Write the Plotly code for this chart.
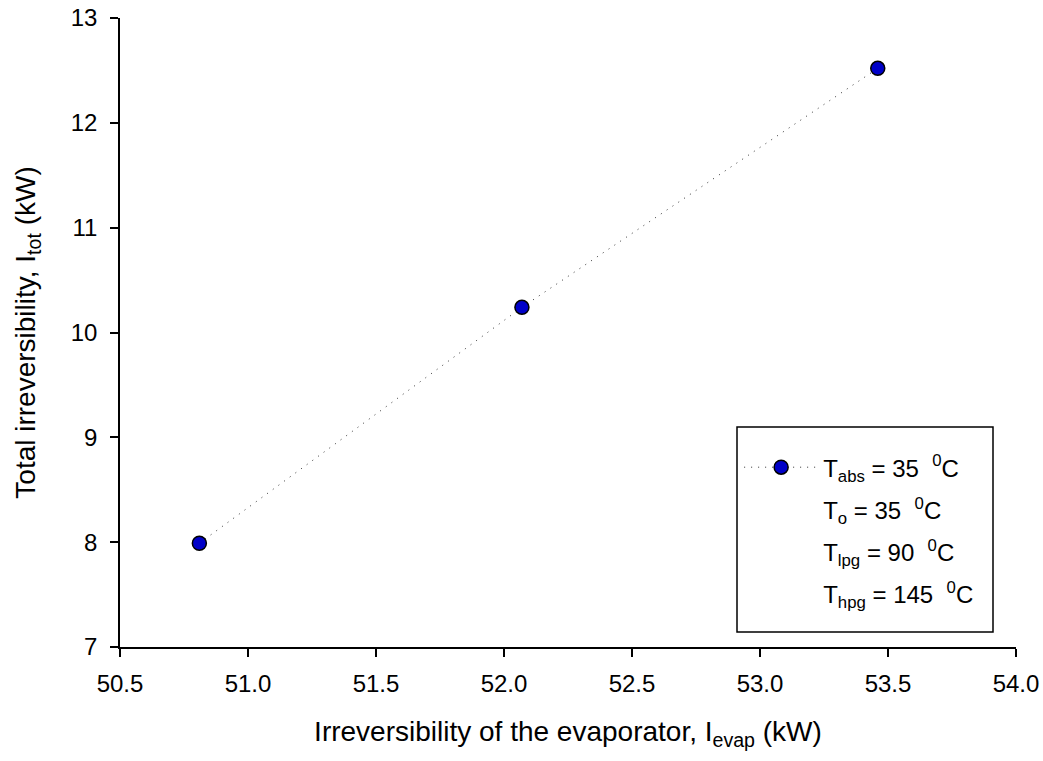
import plotly.graph_objects as go

x_evap = [50.81, 52.07, 53.46]
y_tot = [7.99, 10.24, 12.52]
x_ticks = [50.5, 51.0, 51.5, 52.0, 52.5, 53.0, 53.5, 54.0]
y_ticks = [7, 8, 9, 10, 11, 12, 13]
legend_labels = [
    "T<sub>abs</sub> = 35  <sup>0</sup>C",
    "T<sub>o</sub> = 35  <sup>0</sup>C",
    "T<sub>lpg</sub> = 90  <sup>0</sup>C",
    "T<sub>hpg</sub> = 145  <sup>0</sup>C",
]

FONT = "Liberation Sans, Arial, sans-serif"

fig = go.Figure()
fig.add_trace(go.Scatter(
    x=x_evap, y=y_tot, mode="lines+markers", name=legend_labels[0],
    legendgroup="g0",
    line=dict(color="#333333", width=1, dash="1px,6px"),
    marker=dict(size=14, color="#0000C8", line=dict(color="black", width=1.5)),
))
for i, lab in enumerate(legend_labels[1:], start=1):
    fig.add_trace(go.Scatter(
        x=[None], y=[None], mode="markers", name=lab, legendgroup=f"g{i}",
        marker=dict(size=1, color="rgba(0,0,0,0)"),
    ))

fig.update_layout(
    width=1043, height=761,
    margin=dict(l=120, r=27, t=18, b=114),
    paper_bgcolor="white", plot_bgcolor="white",
    font=dict(family=FONT, size=24, color="black"),
    showlegend=True,
    legend=dict(
        x=0.691, y=0.321, xanchor="left", yanchor="top",
        bgcolor="rgba(0,0,0,0)", borderwidth=0,
        font=dict(family=FONT, size=24, color="black"),
        tracegroupgap=8, itemwidth=74, traceorder="grouped",
    ),
    xaxis=dict(
        range=[50.5, 54.0], tickvals=x_ticks, ticktext=[f"{v:.1f}" for v in x_ticks],
        showgrid=False, zeroline=False, showline=True, linecolor="black", linewidth=1.5,
        ticks="outside", ticklen=8, tickwidth=1.5, tickcolor="black",
        ticklabelstandoff=6, automargin=False, ticklabeloverflow="allow",
        title=dict(text="Irreversibility of the evaporator, I<sub>evap</sub> (kW)",
                   font=dict(size=28), standoff=26),
        tickfont=dict(size=24),
    ),
    yaxis=dict(
        range=[7, 13], tickvals=y_ticks,
        showgrid=False, zeroline=False, showline=True, linecolor="black", linewidth=1.5,
        ticks="outside", ticklen=8, tickwidth=1.5, tickcolor="black",
        ticklabelstandoff=8, automargin=False, ticklabeloverflow="allow",
        title=dict(text="Total irreversibility, I<sub>tot</sub> (kW)",
                   font=dict(size=28), standoff=27),
        tickfont=dict(size=24),
    ),
)

# legend frame
fig.add_shape(type="rect", xref="paper", yref="paper",
              x0=(737 - 120) / 896, x1=(993 - 120) / 896,
              y0=(647 - 632) / 629, y1=(647 - 427) / 629,
              line=dict(color="black", width=1.5), fillcolor="rgba(0,0,0,0)")

fig.write_html("out.html", config={"displayModeBar": False},
               post_script="document.body.style.margin='0';")
